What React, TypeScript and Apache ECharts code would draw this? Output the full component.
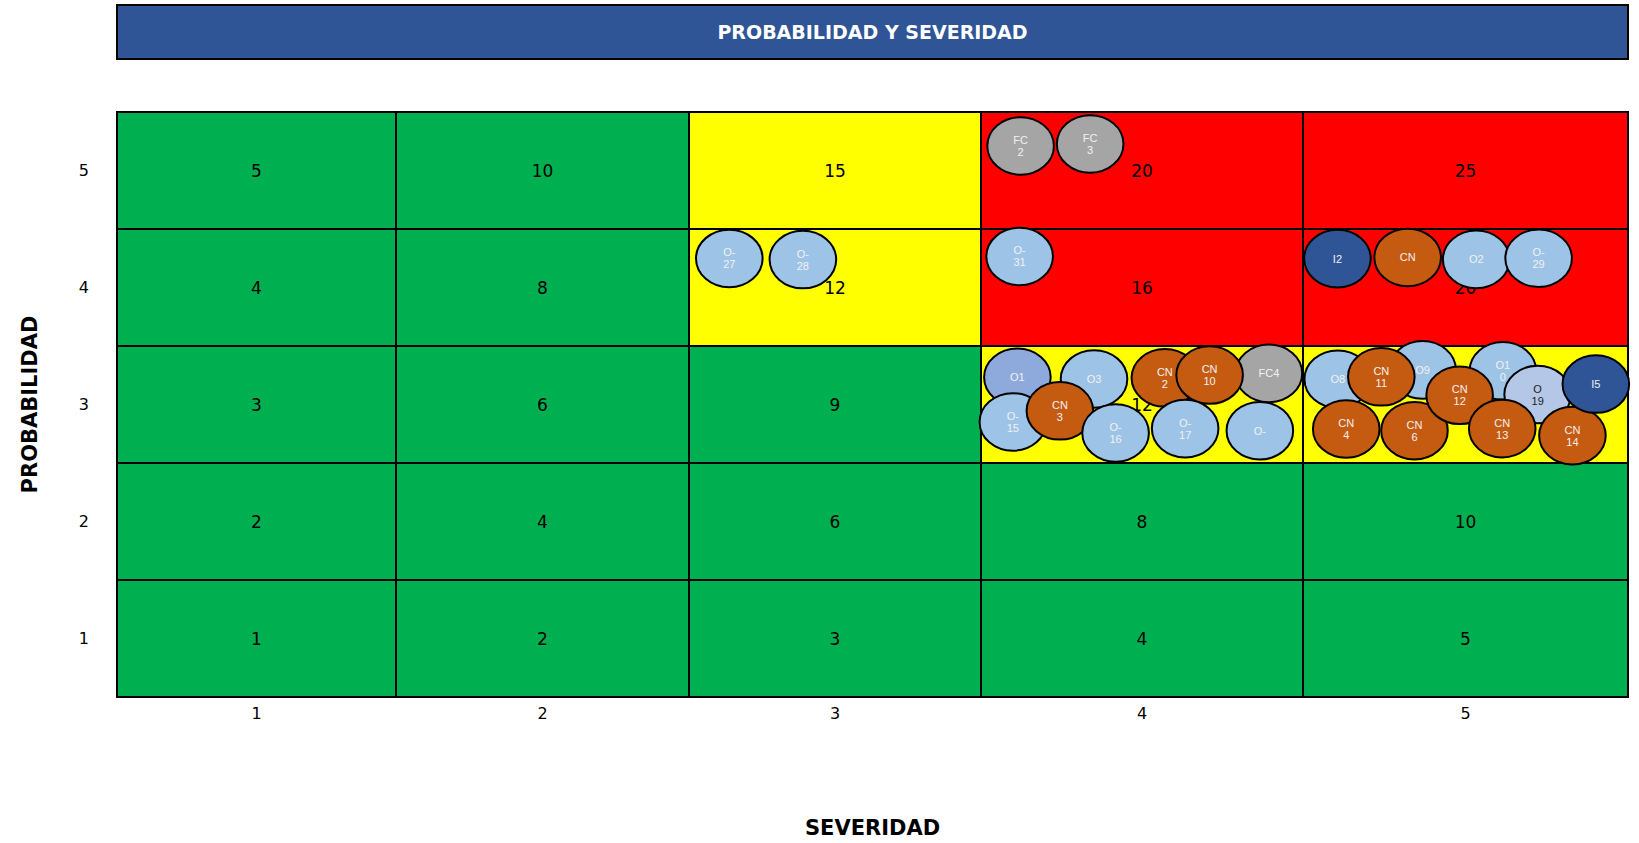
import React, { useEffect, useRef } from "react";
import * as echarts from "echarts";

// ---- data ----
const severityLabels = ["1", "2", "3", "4", "5"];
const probabilityLabels = ["1", "2", "3", "4", "5"];

// cell values per probability row (severity 1..5)
const row1Values = [1, 2, 3, 4, 5];
const row2Values = [2, 4, 6, 8, 10];
const row3Values = [3, 6, 9, 12, 15];
const row4Values = [4, 8, 12, 16, 20];
const row5Values = [5, 10, 15, 20, 25];

// risk zone per cell: G = green, Y = yellow, R = red
const row1Zones = ["G", "G", "G", "G", "G"];
const row2Zones = ["G", "G", "G", "G", "G"];
const row3Zones = ["G", "G", "G", "Y", "Y"];
const row4Zones = ["G", "G", "Y", "R", "R"];
const row5Zones = ["G", "G", "Y", "R", "R"];

// bubbles: label, position (fractional severity / probability), kind
const bubbleLabels = [
  "FC\n2", "FC\n3", "O-\n27", "O-\n28", "O-\n31", "I2", "CN", "O2", "O-\n29",
  "O1", "O3", "FC4", "CN\n2", "CN\n10", "O-\n15", "CN\n3", "O-\n16", "O-\n17", "O-",
  "O8", "O9", "O1\n0", "CN\n11", "CN\n4", "CN\n6", "CN\n12", "O\n19", "CN\n13", "CN\n14", "I5",
];
const bubbleSeverity = [
  3.623, 3.839, 2.638, 2.89, 3.62, 4.606, 4.822, 5.033, 5.225,
  3.613, 3.851, 4.394, 4.071, 4.21, 3.599, 3.745, 3.918, 4.134, 4.366,
  4.607, 4.868, 5.115, 4.741, 4.633, 4.843, 4.982, 5.222, 5.113, 5.329, 5.401,
];
const bubbleProbability = [
  5.21, 5.227, 4.248, 4.239, 4.265, 4.247, 4.257, 4.24, 4.25,
  3.232, 3.218, 3.266, 3.228, 3.252, 2.851, 2.946, 2.757, 2.794, 2.776,
  3.216, 3.296, 3.288, 3.237, 2.791, 2.776, 3.079, 3.085, 2.794, 2.734, 3.175,
];
const bubbleKinds = [
  "FC", "FC", "O", "O", "O", "I", "CN", "O", "O",
  "O1", "O", "FC", "CN", "CN", "O", "CN", "O", "O", "O",
  "O", "O", "O", "CN", "CN", "CN", "CN", "O19", "CN", "CN", "I",
];

// ---- layout / style ----
const colWidths = [279, 293, 292, 322, 325]; // relative widths of the severity columns
const colEdges = colWidths.reduce((acc, w) => { acc.push(acc[acc.length - 1] + w); return acc; }, [0] as number[]);
const colCenters = colWidths.map((w, i) => colEdges[i] + w / 2);
const totalWidth = colEdges[colEdges.length - 1];

const zoneColors: Record<string, string> = { G: "#00B050", Y: "#FFFF00", R: "#FF0000" };
const kindFill: Record<string, string> = {
  O: "#9DC3E6", O1: "#8EA9DB", O19: "#B4C7E7", FC: "#A5A5A5", CN: "#C55A11", I: "#2F5597",
};
const kindText: Record<string, string> = {
  O: "#F2F2F2", O1: "#F2F2F2", O19: "#222222", FC: "#F2F2F2", CN: "#F2F2F2", I: "#F2F2F2",
};

function sevToX(s: number): number {
  let c = Math.floor(s + 0.5);
  if (c < 1) c = 1;
  if (c > 5) c = 5;
  return colEdges[c - 1] + (s - (c - 0.5)) * colWidths[c - 1];
}

const rowValues = [row1Values, row2Values, row3Values, row4Values, row5Values];
const rowZones = [row1Zones, row2Zones, row3Zones, row4Zones, row5Zones];

export default function App() {
  const ref = useRef<HTMLDivElement>(null);
  useEffect(() => {
    if (!ref.current) return;
    const chart = echarts.init(ref.current, null, { renderer: "svg" });

    const cellData: number[][] = [];
    const cellZone: string[] = [];
    rowValues.forEach((vals, pi) => {
      vals.forEach((v, ci) => {
        cellData.push([ci, pi + 1, v]);
        cellZone.push(rowZones[pi][ci]);
      });
    });

    const bubbleData = bubbleSeverity.map((s, i) => [sevToX(s), bubbleProbability[i]]);

    const option: any = {
      animation: false,
      backgroundColor: "#ffffff",
      grid: { left: 117, right: 11, top: 112, bottom: 145 },
      xAxis: {
        type: "value",
        min: 0,
        max: totalWidth,
        name: "SEVERIDAD",
        nameLocation: "middle",
        nameGap: 120,
        nameTextStyle: { fontFamily: "DejaVu Sans", fontWeight: "bold", fontSize: 21, color: "#000" },
        axisLine: { show: false },
        axisTick: { show: false },
        splitLine: { show: false },
        axisLabel: {
          customValues: colCenters,
          formatter: (v: number) => {
            let best = 0;
            colCenters.forEach((c, i) => { if (Math.abs(c - v) < Math.abs(colCenters[best] - v)) best = i; });
            return severityLabels[best];
          },
          fontFamily: "DejaVu Sans",
          fontSize: 16,
          color: "#000",
          margin: 8,
        },
      },
      yAxis: {
        type: "value",
        min: 0.5,
        max: 5.5,
        name: "PROBABILIDAD",
        nameLocation: "middle",
        nameRotate: 90,
        nameGap: 77,
        nameTextStyle: { fontFamily: "DejaVu Sans", fontWeight: "bold", fontSize: 21, color: "#000" },
        axisLine: { show: false },
        axisTick: { show: false },
        splitLine: { show: false },
        axisLabel: {
          customValues: [1, 2, 3, 4, 5],
          formatter: (v: number) => probabilityLabels[Math.round(v) - 1],
          fontFamily: "DejaVu Sans",
          fontSize: 16,
          color: "#000",
          margin: 28,
        },
      },
      graphic: [
        {
          type: "rect",
          shape: { x: 117, y: 5, width: 1511, height: 54 },
          style: { fill: "#2F5597", stroke: "#000", lineWidth: 2 },
          z: 10,
        },
        {
          type: "text",
          x: 872.5,
          y: 32,
          style: {
            text: "PROBABILIDAD Y SEVERIDAD",
            fill: "#ffffff",
            fontFamily: "DejaVu Sans",
            fontWeight: "bold",
            fontSize: 19,
            align: "center",
            verticalAlign: "middle",
          },
          z: 11,
        },
      ],
      series: [
        {
          type: "custom",
          name: "cells",
          clip: false,
          z: 1,
          data: cellData,
          renderItem: (params: any, api: any) => {
            const c = api.value(0);
            const p = api.value(1);
            const v = api.value(2);
            const tl = api.coord([colEdges[c], p + 0.5]);
            const br = api.coord([colEdges[c + 1], p - 0.5]);
            const zone = cellZone[params.dataIndex];
            return {
              type: "group",
              children: [
                {
                  type: "rect",
                  shape: { x: tl[0], y: tl[1], width: br[0] - tl[0], height: br[1] - tl[1] },
                  style: { fill: zoneColors[zone], stroke: "#000", lineWidth: 2 },
                },
                {
                  type: "text",
                  style: {
                    x: (tl[0] + br[0]) / 2,
                    y: (tl[1] + br[1]) / 2,
                    text: String(v),
                    fill: "#000",
                    fontFamily: "DejaVu Sans",
                    fontSize: 17,
                    align: "center",
                    verticalAlign: "middle",
                  },
                },
              ],
            };
          },
        },
        {
          type: "custom",
          name: "riesgos",
          clip: false,
          z: 3,
          data: bubbleData,
          renderItem: (params: any, api: any) => {
            const pt = api.coord([api.value(0), api.value(1)]);
            const i = params.dataIndex;
            const kind = bubbleKinds[i];
            return {
              type: "group",
              children: [
                {
                  type: "ellipse",
                  shape: { cx: pt[0], cy: pt[1], rx: 33.3, ry: 28.8 },
                  style: { fill: kindFill[kind], stroke: "#000", lineWidth: 2 },
                },
                {
                  type: "text",
                  style: {
                    x: pt[0],
                    y: pt[1],
                    text: bubbleLabels[i],
                    fill: kindText[kind],
                    fontFamily: "Liberation Sans, Arial",
                    fontSize: 11,
                    lineHeight: 12,
                    align: "center",
                    verticalAlign: "middle",
                  },
                },
              ],
            };
          },
        },
      ],
    };
    chart.setOption(option);
    return () => chart.dispose();
  }, []);
  return (
    <div
      ref={ref}
      style={{ position: "fixed", left: 0, top: 0, width: 1639, height: 843, background: "#fff" }}
    />
  );
}
